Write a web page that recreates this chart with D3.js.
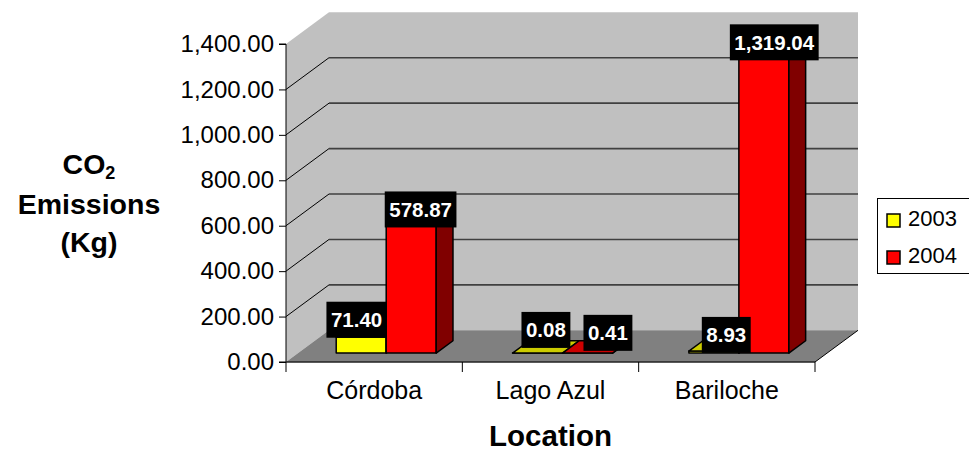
<!DOCTYPE html>
<html>
<head>
<meta charset="utf-8">
<script src="https://cdn.jsdelivr.net/npm/d3@7"></script>
<style>
  html, body { margin: 0; padding: 0; background: #fff; }
  svg { display: block; font-family: "Liberation Sans", Arial, sans-serif; }
</style>
</head>
<body>
<svg id="chart" width="969" height="453"></svg>
<script>
// CO2 emissions per location, 3D clustered columns
const categories = ["Córdoba", "Lago Azul", "Bariloche"];
const seriesNames = ["2003", "2004"];
const values2003 = [71.40, 0.08, 8.93];
const values2004 = [578.87, 0.41, 1319.04];
const yTicks = [0, 200, 400, 600, 800, 1000, 1200, 1400];

const seriesValues = [values2003, values2004];
const faceColors = [
  { front: "#ffff00", top: "#cccc00", side: "#808000" },
  { front: "#ff0000", top: "#cc0000", side: "#800000" }
];

// hand-placed label adjustments (px), per series then category
const labelNudge = [
  [[-13, -11], [0, -17], [4, -10]],
  [[1, -6], [12, -14], [2, -5]]
];

const svg = d3.select("#chart");

// plot frame: front plane and depth vector
const plotL = 286, plotR = 815, plotB = 362, plotT = 44;
const DX = 43, DY = 31.7;          // full depth offset of the floor/walls
const z0 = 0.28, dz = 0.39;        // column depth position and thickness
const barW = 50;

const x0 = d3.scaleBand().domain(categories).range([plotL, plotR]);
const x1 = d3.scaleBand().domain(seriesNames).range([0, barW * 2]);
const y = d3.scaleLinear().domain([0, 1400]).range([plotB, plotT]);

const proj = (px, py, z) => [px + z * DX, py - z * DY];
const poly = pts => "M" + pts.map(p => p.join(",")).join("L") + "Z";

// walls and floor
const g = svg.append("g");
g.append("path") // back wall
  .attr("d", poly([proj(plotL, plotT, 1), proj(plotR, plotT, 1), proj(plotR, plotB, 1), proj(plotL, plotB, 1)]))
  .attr("fill", "#c0c0c0");
g.append("path") // side wall
  .attr("d", poly([proj(plotL, plotT, 0), proj(plotL, plotT, 1), proj(plotL, plotB, 1), proj(plotL, plotB, 0)]))
  .attr("fill", "#c0c0c0");
g.append("path") // floor
  .attr("d", poly([proj(plotL, plotB, 0), proj(plotR, plotB, 0), proj(plotR, plotB, 1), proj(plotL, plotB, 1)]))
  .attr("fill", "#808080");
g.append("line") // floor right edge
  .attr("x1", plotR).attr("y1", plotB)
  .attr("x2", proj(plotR, plotB, 1)[0]).attr("y2", proj(plotR, plotB, 1)[1])
  .attr("stroke", "#000").attr("stroke-width", 1);

// gridlines on the walls
const gridVals = yTicks.filter(v => v > 0 && v < 1400);
gridVals.forEach(v => {
  const a = proj(plotL, y(v), 0), b = proj(plotL, y(v), 1), c = proj(plotR, y(v), 1);
  g.append("line").attr("x1", a[0]).attr("y1", a[1]).attr("x2", b[0]).attr("y2", b[1])
    .attr("stroke", "#000").attr("stroke-width", 1);
  g.append("line").attr("x1", b[0]).attr("y1", b[1]).attr("x2", c[0]).attr("y2", c[1])
    .attr("stroke", "#404040").attr("stroke-width", 1.6);
});

// value axis
const yAxis = d3.axisLeft(y).tickValues(yTicks).tickFormat(d3.format(",.2f")).tickSize(7).tickPadding(5);
const ya = svg.append("g").attr("transform", `translate(${plotL},0)`).call(yAxis);
ya.select(".domain").attr("stroke", "#000").attr("d", `M-7,${plotT}H0V${plotB}H-7`);
ya.selectAll(".tick line").attr("stroke", "#000");
ya.selectAll("text").attr("font-size", 24).attr("fill", "#000")
  .attr("font-family", "Liberation Sans, Arial, sans-serif");

// category axis
const xa = svg.append("g");
xa.append("line").attr("x1", plotL).attr("x2", plotR).attr("y1", plotB).attr("y2", plotB)
  .attr("stroke", "#222").attr("stroke-width", 1.5);
[plotL, ...categories.map(c => x0(c) + x0.bandwidth())].forEach(xv => {
  xa.append("line").attr("x1", xv).attr("x2", xv).attr("y1", plotB).attr("y2", plotB + 10)
    .attr("stroke", "#000");
});
xa.selectAll("text.cat").data(categories).join("text")
  .attr("class", "cat")
  .attr("x", c => x0(c) + x0.bandwidth() / 2)
  .attr("y", 399)
  .attr("text-anchor", "middle")
  .attr("font-size", 25)
  .text(c => c);

// columns, drawn left to right so neighbours overlap correctly
const bars = [];
categories.forEach((c, ci) => {
  seriesNames.forEach((s, si) => {
    const v = seriesValues[si][ci];
    const xl = x0(c) + (x0.bandwidth() - barW * 2) / 2 + x1(s);
    bars.push({ c, ci, s, si, v, xl, xr: xl + x1.bandwidth() });
  });
});

const barG = svg.append("g");
bars.forEach(b => {
  const yTop = y(b.v), yBase = y(0);
  const fTL = proj(b.xl, yTop, z0), fTR = proj(b.xr, yTop, z0);
  const fBL = proj(b.xl, yBase, z0), fBR = proj(b.xr, yBase, z0);
  const bTL = proj(b.xl, yTop, z0 + dz), bTR = proj(b.xr, yTop, z0 + dz);
  const bBR = proj(b.xr, yBase, z0 + dz);
  const col = faceColors[b.si];
  const common = sel => sel.attr("stroke", "#000").attr("stroke-width", 1.5).attr("stroke-linejoin", "round");
  barG.append("path").attr("d", poly([fTL, fTR, fBR, fBL])).attr("fill", col.front).call(common);
  barG.append("path").attr("d", poly([fTR, bTR, bBR, fBR])).attr("fill", col.side).call(common);
  barG.append("path").attr("d", poly([fTL, bTL, bTR, fTR])).attr("fill", col.top).call(common);
});

// value labels in black boxes
const labG = svg.append("g");
bars.forEach(b => {
  const cx = b.xl + x1.bandwidth() / 2 + (z0 + dz / 2) * DX;
  const cy = y(b.v) - (z0 + dz / 2) * DY;
  const n = labelNudge[b.si][b.ci];
  const lx = cx + n[0], ly = cy + n[1];
  const grp = labG.append("g");
  const rect = grp.append("rect").attr("fill", "#000");
  const t = grp.append("text")
    .attr("x", lx).attr("y", ly)
    .attr("text-anchor", "middle").attr("dy", "0.36em")
    .attr("font-size", 20.5).attr("font-weight", "bold").attr("fill", "#fff")
    .text(d3.format(",.2f")(b.v));
  const w = t.node().getComputedTextLength() + 9;
  rect.attr("x", lx - w / 2).attr("y", ly - 18).attr("width", w).attr("height", 36);
});

// axis titles
const yTitle = svg.append("text").attr("text-anchor", "middle").attr("font-weight", "bold").attr("font-size", 28.5);
const l1 = yTitle.append("tspan").attr("x", 89).attr("y", 174);
l1.append("tspan").text("CO");
l1.append("tspan").attr("font-size", 18).attr("dy", 5).text("2");
yTitle.append("tspan").attr("x", 89).attr("y", 214).text("Emissions");
yTitle.append("tspan").attr("x", 89).attr("y", 252).text("(Kg)");

svg.append("text").attr("x", (plotL + plotR) / 2).attr("y", 446)
  .attr("text-anchor", "middle").attr("font-weight", "bold").attr("font-size", 29.5)
  .text("Location");

// legend
const lg = svg.append("g");
lg.append("rect").attr("x", 877.5).attr("y", 198.5).attr("width", 110).attr("height", 75)
  .attr("fill", "#fff").attr("stroke", "#000").attr("stroke-width", 1);
seriesNames.forEach((s, i) => {
  lg.append("rect").attr("x", 887).attr("y", 214 + i * 37).attr("width", 13).attr("height", 13)
    .attr("fill", faceColors[i].front).attr("stroke", "#000").attr("stroke-width", 1.5);
  lg.append("text").attr("x", 908).attr("y", 226 + i * 37).attr("font-size", 22).text(s);
});
</script>
</body>
</html>
